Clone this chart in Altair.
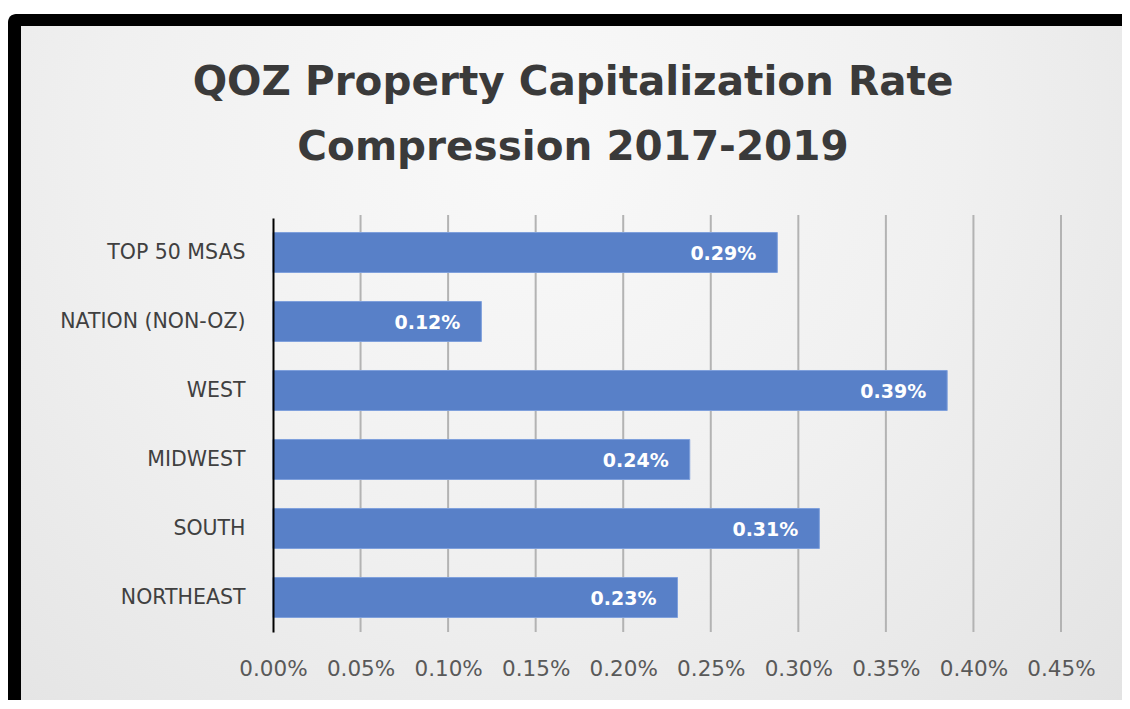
import altair as alt
import pandas as pd

categories = ["TOP 50 MSAS", "NATION (NON-OZ)", "WEST", "MIDWEST", "SOUTH", "NORTHEAST"]
values = [0.00288, 0.00119, 0.00385, 0.00238, 0.00312, 0.00231]
labels = ["0.29%", "0.12%", "0.39%", "0.24%", "0.31%", "0.23%"]
x_ticks = [0.0, 0.0005, 0.001, 0.0015, 0.002, 0.0025, 0.003, 0.0035, 0.004, 0.0045]
title_lines = ["QOZ Property Capitalization Rate", "Compression 2017-2019"]

FONT = "DejaVu Sans"
W, H = 788, 414
PAD_L, PAD_T = 265, 210

df = pd.DataFrame({"cat": categories, "val": values, "lab": labels})
one = pd.DataFrame({"a": [0]})

xscale = alt.Scale(domain=[0, 0.0045], nice=False)
yenc = alt.Y("cat:N", sort=categories, title=None,
             scale=alt.Scale(paddingInner=0.42, paddingOuter=0.21),
             axis=alt.Axis(labelFont=FONT, labelFontSize=20.5, labelColor="#404040",
                           labelPadding=28, labelLimit=300, ticks=False, domain=True,
                           domainColor="#000000", domainWidth=2, grid=False, zindex=2))

frame = alt.Chart(one).mark_rect(color="#000000", cornerRadius=8).encode(
    x=alt.value(-265), x2=alt.value(900), y=alt.value(-204), y2=alt.value(520))

bg = alt.Chart(one).mark_rect(
    color=alt.RadialGradient(
        gradient="radial", x1=0.45, y1=0.3, r1=0, x2=0.45, y2=0.3, r2=0.75,
        stops=[alt.GradientStop(color="#f9f9f9", offset=0),
               alt.GradientStop(color="#f0f0f0", offset=0.5),
               alt.GradientStop(color="#e2e2e2", offset=1)])
).encode(x=alt.value(-252), x2=alt.value(880), y=alt.value(-192), y2=alt.value(486))

grid = alt.Chart(pd.DataFrame({"t": x_ticks[1:]})).mark_rule(color="#b3b3b3", strokeWidth=2).encode(
    x=alt.X("t:Q", scale=xscale), y=alt.value(-3), y2=alt.value(H))

bars = alt.Chart(df).mark_bar(color="#5880c8", stroke="#7fa0dc", strokeWidth=1).encode(
    x=alt.X("val:Q", scale=xscale, title=None,
            axis=alt.Axis(values=x_ticks, format=".2%", labelFont=FONT, labelFontSize=21.5,
                          labelColor="#595959", labelPadding=26, labelFlush=False, ticks=False,
                          domain=False, grid=False, zindex=2)),
    y=yenc)

text = alt.Chart(df).mark_text(align="right", baseline="middle", dx=-21, dy=1,
                               font=FONT, fontSize=19, fontWeight="bold", color="#ffffff").encode(
    x=alt.X("val:Q", scale=xscale), y=alt.Y("cat:N", sort=categories), text="lab:N")

t1 = alt.Chart(one).mark_text(align="center", baseline="alphabetic", font=FONT, fontSize=40.5,
                              fontWeight="bold", color="#3a3a3a", text=title_lines[0]).encode(
    x=alt.value(300), y=alt.value(-123))
t2 = alt.Chart(one).mark_text(align="center", baseline="alphabetic", font=FONT, fontSize=40.5,
                              fontWeight="bold", color="#3a3a3a", text=title_lines[1]).encode(
    x=alt.value(300), y=alt.value(-58))

chart = alt.layer(frame, bg, grid, bars, text, t1, t2).properties(
    width=W, height=H,
    autosize=alt.AutoSizeParams(type="none"),
    padding={"left": PAD_L, "top": PAD_T, "right": 1114 - PAD_L - W, "bottom": 692 - PAD_T - H},
    background="#ffffff",
).configure_view(stroke=None)

chart.save("out.html", embed_options={"renderer": "svg", "actions": False})
